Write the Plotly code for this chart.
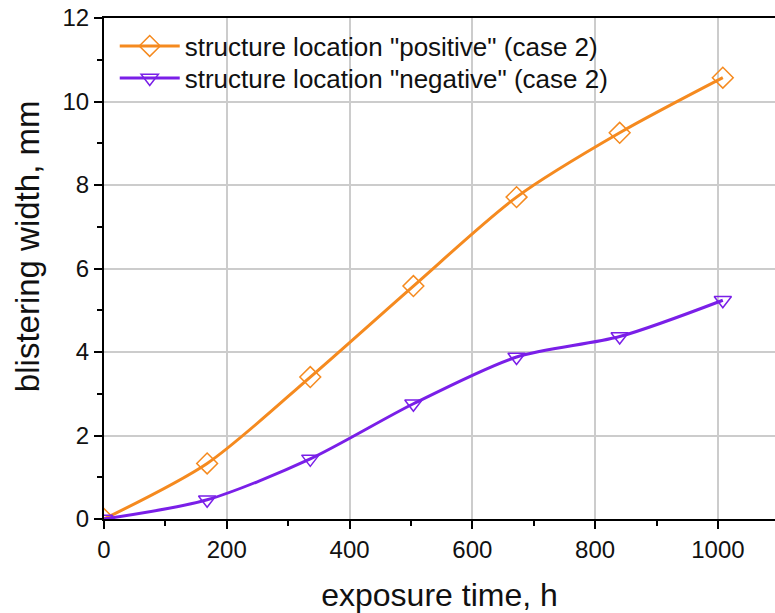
import plotly.graph_objects as go

time_h = [0, 168, 336, 504, 672, 840, 1008]
positive_case2 = [0, 1.33, 3.40, 5.58, 7.71, 9.25, 10.57]
negative_case2 = [0, 0.46, 1.44, 2.76, 3.88, 4.37, 5.24]
x_ticks = [0, 200, 400, 600, 800, 1000]
y_ticks = [0, 2, 4, 6, 8, 10, 12]

orange = "#F58A1F"
purple = "#7A1FE8"

fig = go.Figure()
fig.add_trace(go.Scatter(
    x=time_h, y=positive_case2, mode="lines+markers",
    name='structure location "positive" (case 2)',
    line=dict(color=orange, width=3, shape="spline", smoothing=0.8),
    marker=dict(symbol="diamond-open", size=16, color=orange, line=dict(width=1.5, color=orange)),
    legend="legend",
))
fig.add_trace(go.Scatter(
    x=time_h, y=negative_case2, mode="lines+markers",
    name='structure location "negative" (case 2)',
    line=dict(color=purple, width=3, shape="spline", smoothing=0.8),
    marker=dict(symbol="triangle-down-open", size=15, color=purple, line=dict(width=1.5, color=purple)),
    legend="legend2",
))

leg_common = dict(xanchor="left", yanchor="middle", bgcolor="rgba(255,255,255,0)",
                  font=dict(size=26), itemwidth=60)

fig.update_layout(
    width=775, height=613,
    margin=dict(l=104, r=0, t=18, b=94, autoexpand=False),
    plot_bgcolor="white", paper_bgcolor="white",
    font=dict(family="Arial, Liberation Sans, sans-serif", color="#111", size=24),
    showlegend=True,
    legend=dict(x=0.016, y=0.944, **leg_common),
    legend2=dict(x=0.016, y=0.880, **leg_common),
    xaxis=dict(
        range=[0, 1093], tickvals=x_ticks, automargin=False,
        title=dict(text="exposure time, h", font=dict(size=32), standoff=24),
        showgrid=True, gridcolor="#cccccc", gridwidth=1.5,
        showline=True, linecolor="black", linewidth=2, mirror=True,
        ticks="outside", ticklen=8, tickwidth=2, tickcolor="black",
        minor=dict(tickvals=[100, 300, 500, 700, 900], ticks="outside", ticklen=5, tickwidth=2, tickcolor="black", showgrid=False),
        zeroline=False, tickfont=dict(size=24),
    ),
    yaxis=dict(
        range=[0, 12], tickvals=y_ticks, automargin=False,
        showgrid=True, gridcolor="#cccccc", gridwidth=1.5,
        showline=True, linecolor="black", linewidth=2,
        ticks="outside", ticklen=8, tickwidth=2, tickcolor="black",
        minor=dict(tickvals=[1, 3, 5, 7, 9, 11], ticks="outside", ticklen=5, tickwidth=2, tickcolor="black", showgrid=False),
        zeroline=False, tickfont=dict(size=24),
    ),
    annotations=[dict(
        text="blistering width, mm", textangle=-90, showarrow=False,
        xref="paper", yref="paper", x=-0.113, y=0.545,
        xanchor="center", yanchor="middle", font=dict(size=33),
    )],
)

fig.write_html("out.html", config={"displayModeBar": False},
               post_script="document.body.style.margin='0';document.body.style.overflow='hidden';")
